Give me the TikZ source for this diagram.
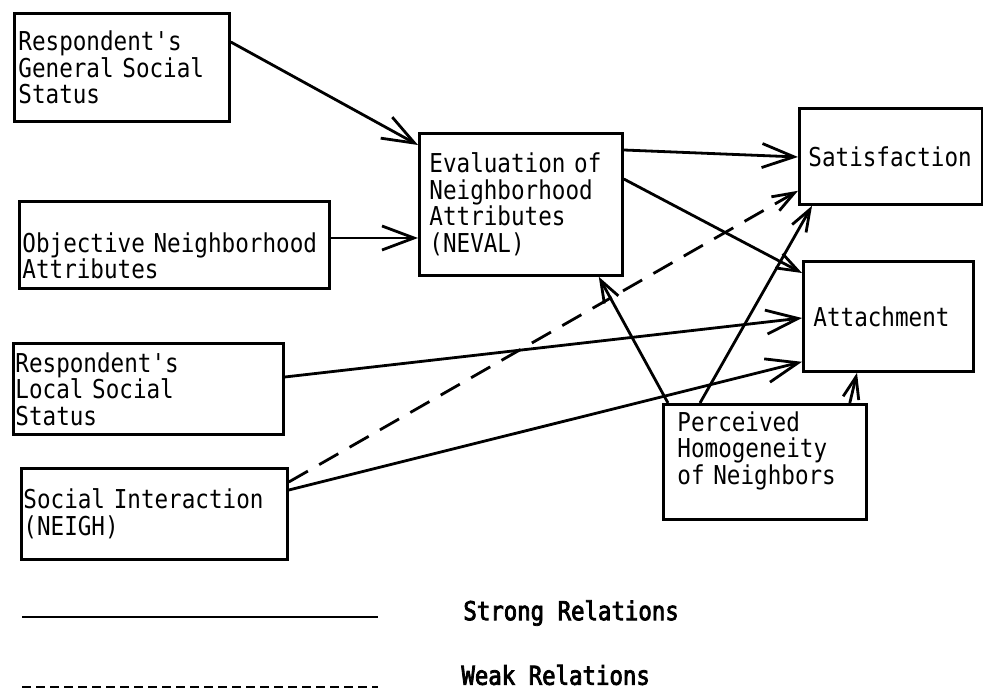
\documentclass[tikz,border=0pt]{standalone}
\usepackage{fontspec}
\usepackage{tikz}
\usetikzlibrary{arrows.meta,calc}
\newfontfamily\typefont[FakeStretch=0.87]{DejaVu Sans Mono}
\newfontfamily\legendfont[FakeStretch=0.86,FakeBold=3]{DejaVu Sans Mono}
\newcommand{\boxfont}{\typefont\fontsize{26}{26.5}\selectfont}

\begin{document}
\begin{tikzpicture}[x=1pt, y=-1pt, line width=2.8pt,
  box/.style={draw, anchor=north west, align=left, inner ysep=0pt, font=\boxfont},
  legtext/.style={anchor=west, inner sep=0pt, font=\legendfont\fontsize{26}{26}\selectfont},
  big/.style={-{Straight Barb[length=32pt,width=24pt]}},
  small/.style={-{Straight Barb[length=22pt,width=16pt]}},
  weak/.style={dash pattern=on 22pt off 13pt}]
\useasboundingbox (0,0) rectangle (983,692);
\node [box, text width=207pt, minimum height=108pt, inner xsep=4pt] (gen) at (13,12) {Respondent's\\General Social\\Status};
\node [box, text width=304pt, minimum height=87pt, inner xsep=3pt, text height=42pt] (obj) at (18,200) {Objective Neighborhood\\Attributes};
\node [box, text width=183pt, minimum height=142pt, inner xsep=10pt] (neval) at (418,132) {Evaluation of\\Neighborhood\\Attributes\\(NEVAL)};
\node [box, text width=165pt, minimum height=96pt, inner xsep=9pt] (sat) at (798,107) {Satisfaction};
\node [box, text width=150pt, minimum height=110pt, inner xsep=10pt] (att) at (802,260) {Attachment};
\node [box, text width=175pt, minimum height=115pt, inner xsep=14pt, text depth=81pt] (hom) at (662,403) {Perceived\\Homogeneity\\of Neighbors};
\node [box, text width=266pt, minimum height=91pt, inner xsep=2pt] (loc) at (12,342) {Respondent's\\Local Social\\Status};
\node [box, text width=262pt, minimum height=91pt, inner xsep=2pt] (soc) at (20,467) {Social Interaction\\(NEIGH)};
\draw [big] ($(gen.north east)+(0,30)$) -- ($(neval.north west)+(0,13)$);
\draw [big] ($(obj.north east)+(0,38)$) -- ($(neval.north west)+(0,106)$);
\draw [big] ($(neval.north east)+(0,18)$) -- ($(sat.north west)+(0,50)$);
\draw [small] ($(neval.north east)+(0,47)$) -- ($(att.north west)+(0,13)$);
\draw [small, weak] ($(soc.north east)+(0,15)$) -- ($(sat.south west)+(0,-15)$);
\draw [big] ($(loc.north east)+(0,35)$) -- ($(att.north west)+(0,58)$);
\draw [big] ($(soc.north east)+(0,23)$) -- ($(att.south west)+(0,-11)$);
\draw [small] ($(hom.north west)+(6,0)$) -- ($(neval.south east)+(-25,0)$);
\draw [small] ($(hom.north west)+(38,0)$) -- ($(sat.south west)+(14,0)$);
\draw [small] ($(hom.north east)+(-18,0)$) -- ($(att.south west)+(55,0)$);
\draw (22,617) -- (378,617);
\draw [dash pattern=on 9pt off 5pt] (22,687) -- (378,687);
\node [legtext] (strong) at (462,613) {Strong Relations};
\node [legtext] (weakrel) at (460,675) {Weak Relations};
\end{tikzpicture}
\end{document}
